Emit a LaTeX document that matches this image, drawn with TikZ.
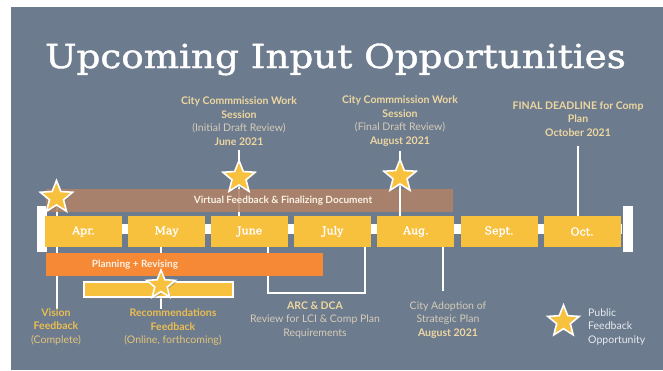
\documentclass[tikz,border=0pt]{standalone}
\usepackage{graphicx}
\usepackage{fontspec}
\setmainfont{Lato}
\newfontfamily\slabfont{DejaVu Serif}[FakeBold=1.2]
\usetikzlibrary{positioning,shapes.geometric,shadows}
\definecolor{Slate}{RGB}{108,123,142}
\definecolor{MonthGold}{RGB}{247,192,61}
\definecolor{VirtBrown}{RGB}{176,130,104}
\definecolor{PlanOrange}{RGB}{245,137,54}
\definecolor{Cream}{RGB}{238,215,160}
\definecolor{SoftCream}{RGB}{214,204,184}
\definecolor{VisGold}{RGB}{236,190,80}
\definecolor{VisSoft}{RGB}{226,196,122}
\definecolor{BarText}{RGB}{250,242,228}
\definecolor{LegText}{RGB}{232,234,238}
\pgfdeclarelayer{bg}\pgfdeclarelayer{mid}\pgfsetlayers{bg,mid,main}
\tikzset{
  month/.style={fill=MonthGold,minimum width=77pt,minimum height=31pt,inner sep=0pt,text=white,
    font=\slabfont\fontsize{11}{13}\selectfont},
  bar/.style={minimum height=23pt,inner sep=0pt},
  bartxt/.style={text=BarText,inner sep=0pt,font=\fontsize{10}{12}\selectfont\bfseries},
  tick/.style={draw=white,line width=2pt},
  endcap/.style={fill=white,minimum width=10pt,minimum height=46pt,inner sep=0pt},
  pub/.style={star,star points=5,star point ratio=2.3,fill=MonthGold,draw=white,line width=1.6pt,
    inner sep=0pt,minimum size=34pt,drop shadow={shadow xshift=1.5pt,shadow yshift=-1.5pt,opacity=.45}},
}
\tikzset{note/.style={align=center,inner sep=0pt,font=\fontsize{10.5}{13.5}\selectfont},
  notebf/.style={note,font=\fontsize{10.5}{13.5}\selectfont\bfseries}}

\begin{document}
\begin{tikzpicture}[x=1pt,y=-1pt]
\useasboundingbox (0,0) rectangle (663,370);
\begin{pgfonlayer}{bg}
\fill[white] (0,0) rectangle (663,370);\fill[Slate] (11,7) rectangle (663,370);
\end{pgfonlayer}
\node[anchor=base,text=white,font=\slabfont\fontsize{33}{40}\selectfont] (title) at (335.5,68) {\scalebox{1.13}[1]{Upcoming Input Opportunities}};
% notes above the timeline
\node[notebf,anchor=north,text=Cream] (txtJun) at (239,96.5) {City Commmission Work\\Session\\{\mdseries\color{SoftCream}(Initial Draft Review)}\\June 2021};
\node[notebf,anchor=north,text=Cream] (txtAug) at (400,95.5) {City Commmission Work\\Session\\{\mdseries\color{SoftCream}(Final Draft Review)}\\August 2021};
\node[notebf,anchor=north,text=Cream] (txtOct) at (578,101.5) {FINAL DEADLINE for Comp\\Plan\\October 2021};
% notes below the timeline
\node[notebf,anchor=north,text=VisGold] (txtVis) at (56,308.5) {Vision\\Feedback\\{\mdseries\color{VisSoft}(Complete)}};
\node[notebf,anchor=north,text=VisGold] (txtRec) at (173,308.5) {Recommendations\\Feedback\\{\mdseries\color{VisSoft}(Online, forthcoming)}};
\node[note,anchor=north,text=SoftCream] (txtArc) at (315,301.5) {{\bfseries\color{Cream}ARC \& DCA}\\Review for LCI \& Comp Plan\\Requirements};
\node[note,anchor=north,text=SoftCream] (txtAdopt) at (448,301.5) {City Adoption of\\Strategic Plan\\{\bfseries\color{Cream}August 2021}};
% timeline
\node[endcap] (capL) at (42,229) {};\node[endcap] (capR) at (627.5,229) {};
\draw[white,line width=10pt] (capL) -- (capR);
\node[month] (apr) at (83.5,231.5) {Apr.};
\node[month,right=5.7pt of apr] (may) {May};\node[month,right=5.7pt of may] (jun) {June};
\node[month,right=5.7pt of jun] (jul) {July};\node[month,right=5.7pt of jul] (aug) {Aug.};
\node[month,right=5.7pt of aug] (sep) {Sept.};\node[month,right=5.7pt of sep] (oct) {Oct.};
% bars
\node[bar,fill=VirtBrown,fill opacity=.88,minimum width=407pt] (vfd) at (249.5,200.5) {};
\node[bar,fill=PlanOrange,minimum width=277pt] (plan) at (184.5,264.5) {};
\node[fill=MonthGold,draw=white,line width=1.6pt,minimum width=149pt,minimum height=15pt,inner sep=0pt,
  drop shadow={shadow xshift=1.5pt,shadow yshift=-1.5pt,opacity=.45}] (recbar) at (158.5,289.5) {};
\node[bartxt] at (283,200.5) {Virtual Feedback \& Finalizing Document};
\node[bartxt] at (135,265) {Planning + Revising};
% stars
\node[pub] (star1) at (56.5,197.5) {};
\node[pub,minimum size=30pt] (star4) at (161,285) {};
\begin{pgfonlayer}{mid}
\draw[tick] (star1.center) -- (star1 |- txtVis.north);
\draw[tick] (may.center -| star4) -- (star4 |- txtRec.north);
\draw[tick] ([yshift=-5pt]txtJun.south) -- (txtJun.south |- jun.north);
\draw[tick] ([yshift=-9pt]txtOct.south) -- (txtOct.south |- oct.north);
\draw[tick] ([xshift=18.5pt]jun.south) -- ++(0,46) -| ([xshift=32.5pt]jul.south);
\draw[tick] ([xshift=27.5pt]aug.south) -- ++(0,44);
\end{pgfonlayer}
\draw[tick] ([yshift=-5pt]txtAug.south) -- (txtAug.south |- aug.north);
\node[pub] (star2) at (239,177.5) {};\node[pub] (star3) at (400,176.5) {};
% legend
\node[pub,minimum size=33pt] (legstar) at (563.5,321.5) {};
\node[note,align=left,anchor=north west,text=LegText] (legtxt) at (588,308.5) {Public\\Feedback\\Opportunity};
\end{tikzpicture}
\end{document}
